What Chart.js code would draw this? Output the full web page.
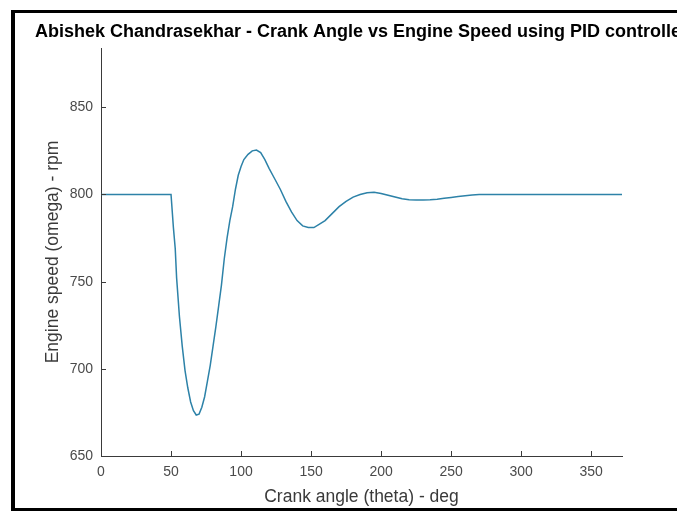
<!DOCTYPE html>
<html>
<head>
<meta charset="utf-8">
<script src="https://cdn.jsdelivr.net/npm/chart.js@4.4.1/dist/chart.umd.min.js"></script>
<style>
  html, body { margin: 0; padding: 0; background: #fff; overflow: hidden; width: 677px; height: 512px; }
  #frame {
    position: absolute; left: 11px; top: 10px;
    width: 693px; height: 495px;
    border-left: 4px solid #000; border-top: 3px solid #000; border-bottom: 3px solid #000;
    background: #fff;
  }
  canvas { display: block; }
</style>
</head>
<body>
<div id="frame"><canvas id="canvas1" width="693" height="495"></canvas></div>
<script>
// crank angle (deg) and engine speed (rpm)
var crankAngle = [0, 50, 51.7, 53, 54, 56, 58, 60, 62, 64, 66, 68, 70, 72, 74, 76, 78, 80, 82, 84, 86, 88, 90, 92, 94, 96, 98, 100, 102, 105, 108, 111, 114, 117, 120, 124, 128, 132, 136, 140, 144, 148, 152, 156, 160, 165, 170, 175, 180, 185, 190, 195, 200, 205, 210, 215, 220, 225, 230, 235, 240, 245, 250, 255, 260, 265, 270, 372];
var engineSpeed = [800, 800, 781, 769, 752, 730, 713, 699, 689, 681, 676, 673.5, 674, 678, 684, 693, 702, 713, 724, 736, 748, 763, 775, 785, 793, 803, 811, 816, 820, 823, 825, 825.5, 824, 820, 815, 809, 803, 796, 790, 785, 782, 781, 781, 783, 785, 789, 793, 796, 798.5, 800, 801, 801.3, 800.5, 799.5, 798.5, 797.5, 797, 796.8, 796.8, 797, 797.3, 797.8, 798.3, 798.8, 799.3, 799.7, 800, 800];
var xTicks = [0, 50, 100, 150, 200, 250, 300, 350];
var yTicks = [650, 700, 750, 800, 850];

var points = [];
for (var i = 0; i < crankAngle.length; i++) {
  points.push({ x: crankAngle[i], y: engineSpeed[i] });
}

var fontFamily = "'Liberation Sans', Arial, sans-serif";
var axisColor = "#3a3a3a";

// MATLAB style ticks pointing into the plot
var inwardTicks = {
  id: "inwardTicks",
  afterDraw: function(chart) {
    var ctx = chart.ctx;
    var xs = chart.scales.x, ys = chart.scales.y;
    ctx.save();
    ctx.strokeStyle = axisColor;
    ctx.lineWidth = 1;
    ctx.beginPath();
    xs.ticks.forEach(function(t) {
      var px = Math.round(xs.getPixelForValue(t.value)) + 0.5;
      ctx.moveTo(px, ys.bottom);
      ctx.lineTo(px, ys.bottom - 5);
    });
    ys.ticks.forEach(function(t) {
      var py = Math.round(ys.getPixelForValue(t.value)) + 0.5;
      ctx.moveTo(xs.left, py);
      ctx.lineTo(xs.left + 5, py);
    });
    ctx.stroke();
    ctx.restore();
  }
};

var ctx = document.getElementById("canvas1").getContext("2d");
new Chart(ctx, {
  type: "line",
  data: {
    datasets: [{
      data: points,
      borderColor: "#2d82a8",
      borderWidth: 1.5,
      pointRadius: 0,
      fill: false,
      tension: 0
    }]
  },
  options: {
    responsive: false,
    animation: false,
    layout: { padding: 0 },
    plugins: {
      legend: { display: false },
      tooltip: { enabled: false },
      title: {
        display: true,
        text: "Abishek Chandrasekhar - Crank Angle vs Engine Speed using PID controller",
        color: "#000",
        font: { family: fontFamily, size: 18, weight: "bold" },
        padding: { top: 8, bottom: 5.4 }
      }
    },
    scales: {
      x: {
        type: "linear",
        min: 0,
        max: 372,
        grid: { display: false, drawTicks: false },
        border: { display: true, color: axisColor, width: 1 },
        afterBuildTicks: function(scale) {
          scale.ticks = xTicks.map(function(v) { return { value: v }; });
        },
        afterFit: function(scale) { scale.height = 52; },
        ticks: {
          color: "#4a4a4a",
          padding: 8,
          maxRotation: 0,
          font: { family: fontFamily, size: 14 }
        },
        title: {
          display: true,
          text: "Crank angle (theta) - deg",
          color: axisColor,
          font: { family: fontFamily, size: 17.5 },
          padding: { top: 0, bottom: 0.5 }
        }
      },
      y: {
        min: 650,
        max: 884,
        grid: { display: false, drawTicks: false },
        border: { display: true, color: axisColor, width: 1 },
        afterBuildTicks: function(scale) {
          scale.ticks = yTicks.map(function(v) { return { value: v }; });
        },
        afterFit: function(scale) { scale.width = 86; },
        ticks: {
          color: "#4a4a4a",
          padding: 8,
          font: { family: fontFamily, size: 14 }
        },
        title: {
          display: true,
          text: "Engine speed (omega) - rpm",
          color: axisColor,
          font: { family: fontFamily, size: 17.5 },
          padding: { top: 27.5, bottom: 0 }
        }
      },
      // empty right-hand box so the title can span the whole canvas
      yRight: {
        position: "right",
        display: true,
        grid: { display: false, drawTicks: false },
        border: { display: false },
        ticks: { display: false },
        afterFit: function(scale) { scale.width = 86; }
      }
    }
  },
  plugins: [inwardTicks]
});
</script>
</body>
</html>
